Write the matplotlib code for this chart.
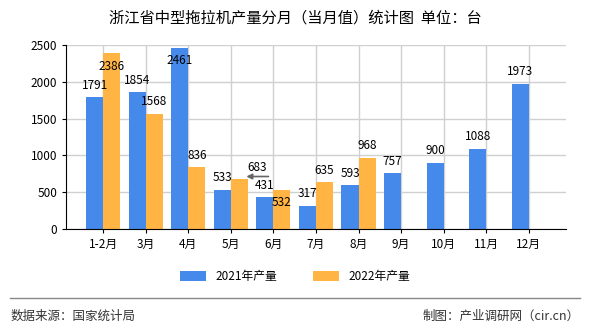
import numpy as np
import matplotlib
matplotlib.use("Agg")
from matplotlib import pyplot as plt

plt.rcParams['font.family'] = ['Noto Sans CJK SC', 'DejaVu Sans']

# datos
meses = ['1-2月', '3月', '4月', '5月', '6月', '7月', '8月', '9月', '10月', '11月', '12月']
prod_2021 = [1791, 1854, 2461, 533, 431, 317, 593, 757, 900, 1088, 1973]
prod_2022 = [2386, 1568, 836, 683, 532, 635, 968]

azul = '#4589EB'
naranja = '#FFB444'

fig = plt.figure(figsize=(5.9, 3.3), dpi=100)
ax = fig.add_axes([0.112, 0.306, 0.847, 0.558])

x = np.arange(len(meses))
w = 0.4
ax.bar(x - w/2, prod_2021, w, color=azul, label='2021年产量', zorder=2)
ax.bar(x[:len(prod_2022)] + w/2, prod_2022, w, color=naranja, label='2022年产量', zorder=2)

# etiquetas: la mayoria arriba de la barra, algunas adentro
bajar = {(0, 1): -14, (2, 0): -14, (4, 1): -14}
for serie, (vals, dx) in enumerate([(prod_2021, -w/2), (prod_2022, w/2)]):
    for i, v in enumerate(vals):
        if serie == 1 and i == 3:
            continue
        off = bajar.get((i, serie), 4)
        ax.annotate(str(v), (x[i] + dx, v), xytext=(0, off), textcoords='offset points',
                    ha='center', va='bottom', fontsize=8.5, color='black', zorder=3)

# la etiqueta 683 con flecha
ax.annotate('', xy=(x[3] + 0.3, prod_2022[3] + 30), xytext=(x[3] + 0.95, prod_2022[3] + 30),
            arrowprops=dict(arrowstyle='-|>', color='#666666', lw=1.2, mutation_scale=8), zorder=3)
ax.text(x[3] + 0.62, prod_2022[3] + 60, str(prod_2022[3]), ha='center', va='bottom', fontsize=8.5, zorder=3)

ax.set_xlim(-0.87, len(meses) - 0.13)
ax.set_ylim(0, 2500)
ax.set_yticks(np.arange(0, 2501, 500))
ax.set_xticks(x)
ax.set_xticklabels(meses)
ax.tick_params(labelsize=8.5, length=3, color='black')
ax.grid(True, color='#D0D0D0', lw=1, zorder=0)
ax.set_axisbelow(True)
for s in ['top', 'right']:
    ax.spines[s].set_visible(False)
ax.spines['left'].set_color('black')
ax.spines['bottom'].set_color('black')

fig.text(0.5, 0.945, '浙江省中型拖拉机产量分月（当月值）统计图  单位：台', ha='center', va='center', fontsize=11)

fig.legend(loc='center', bbox_to_anchor=(0.5, 0.163), ncol=2, frameon=False, fontsize=8.5,
           handlelength=2.2, handleheight=0.9, columnspacing=3)

fig.add_artist(plt.Line2D([0.017, 0.983], [0.097, 0.097], color='#888888', lw=1))
fig.text(0.017, 0.042, '数据来源：国家统计局', ha='left', va='center', fontsize=9, color='#333333')
fig.text(0.983, 0.042, '制图：产业调研网（cir.cn）', ha='right', va='center', fontsize=9, color='#333333')

plt.savefig('out.png', dpi=100)
